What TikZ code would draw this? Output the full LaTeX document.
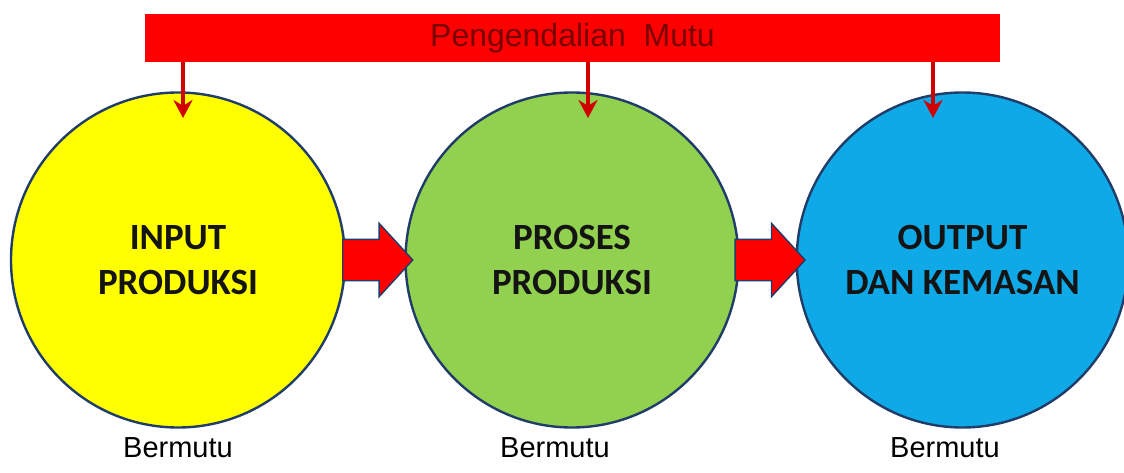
\documentclass[tikz,border=0pt]{standalone}
\usepackage{fontspec}
\setmainfont{Liberation Sans}
\newfontfamily\stagefont{Carlito}
\usetikzlibrary{arrows.meta,calc,shapes.arrows,shapes.geometric}

\definecolor{barred}{HTML}{FF0000}
\definecolor{bartext}{HTML}{7A0000}
\definecolor{ctrlred}{HTML}{D00000}
\definecolor{ring}{HTML}{203C68}
\definecolor{cyellow}{HTML}{FFFF00}
\definecolor{cgreen}{HTML}{92D050}
\definecolor{cblue}{HTML}{0EA9E6}
\definecolor{stagetext}{HTML}{141414}

\begin{document}
\begin{tikzpicture}[x=1pt,y=-1pt,
  stage/.style={ellipse, draw=ring, line width=2.4pt, inner sep=0pt,
    align=center, text=stagetext,
    font=\stagefont\bfseries\fontsize{37}{45}\selectfont},
  ctrlbar/.style={rectangle, fill=barred, draw=none, minimum width=855pt,
    minimum height=48pt, text=bartext, font=\fontsize{32}{34}\selectfont},
  ctrl/.style={draw=ctrlred, line width=3.5pt,
    -{Stealth[length=18pt,width=19pt]}},
  flow/.style={single arrow, fill=barred, draw=ring, line width=1.4pt,
    inner sep=20pt, minimum height=70pt, single arrow head extend=16pt,
    single arrow tip angle=95},
  quality/.style={font=\fontsize{29}{32}\selectfont, text=black}
]
\useasboundingbox (0,0) rectangle (1124,473);

% quality-control bar
\node[ctrlbar] (bar) at (572.5,38) {Pengendalian\ \ Mutu};

% process stages
\node[stage, fill=cyellow, minimum width=334pt, minimum height=335pt] (c1) at (178,260) {INPUT\\PRODUKSI};
\node[stage, fill=cgreen, minimum width=333pt, minimum height=335pt] (c2) at (572,260) {PROSES\\PRODUKSI};
\node[stage, fill=cblue, minimum width=321pt, minimum height=335pt] (c3) at (962.5,260) {OUTPUT\\DAN KEMASAN};

% flow between stages
\node[flow] (f1) at ($(c1.east)!0.5!(c2.west)+(-7,0)$) {};
\node[flow] (f2) at ($(c2.east)!0.5!(c3.west)+(-7,0)$) {};

% control arrows from the bar into each stage
\coordinate (t1) at (183,118);
\coordinate (t2) at (588,118);
\coordinate (t3) at (933,118);
\draw[ctrl] (bar.south -| t1) -- (t1);
\draw[ctrl] (bar.south -| t2) -- (t2);
\draw[ctrl] (bar.south -| t3) -- (t3);

% quality labels
\node[quality] (q1) at (178,448) {Bermutu};
\node[quality] (q2) at (555,448) {Bermutu};
\node[quality] (q3) at (945,448) {Bermutu};
\end{tikzpicture}
\end{document}
